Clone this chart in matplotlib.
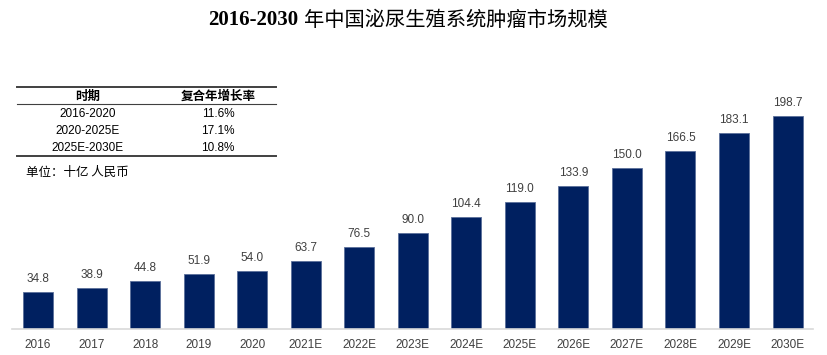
import matplotlib
matplotlib.use("Agg")
import matplotlib.pyplot as plt

years = ["2016", "2017", "2018", "2019", "2020", "2021E", "2022E", "2023E",
         "2024E", "2025E", "2026E", "2027E", "2028E", "2029E", "2030E"]
values = [34.8, 38.9, 44.8, 51.9, 54.0, 63.7, 76.5, 90.0,
          104.4, 119.0, 133.9, 150.0, 166.5, 183.1, 198.7]

periods = ["2016-2020", "2020-2025E", "2025E-2030E"]
cagr = ["11.6%", "17.1%", "10.8%"]

W, H = 827, 355
fig = plt.figure(figsize=(W / 100, H / 100), dpi=100)


def fx(x):
    return x / W


def fy(y):
    return 1 - y / H


# axes placed in pixel terms: baseline at y=329, left 12, right 813
bottom_px, top_px = 329.3, 60
px_per_unit = (329.3 - 116) / 198.7
ymax = (bottom_px - top_px) / px_per_unit
ax = fig.add_axes([fx(12), fy(bottom_px), fx(813) - fx(12), (bottom_px - top_px) / H])

xs = list(range(len(years)))
bars = ax.bar(xs, values, width=0.56, color="#002060", edgecolor="#5a6f9a", linewidth=0.6)
for x, v in zip(xs, values):
    ax.annotate(f"{v:.1f}", (x, v), xytext=(0, 5), textcoords="offset points",
                ha="center", va="bottom", fontsize=8.5, color="#404040",
                family="Liberation Sans")

ax.set_xlim(-0.486, 14.476)
ax.set_ylim(0, ymax)
ax.set_xticks(xs)
ax.set_xticklabels(years, fontsize=8.5, color="#404040", family="Liberation Sans")
ax.tick_params(axis="x", length=0, pad=7)
ax.set_yticks([])
for s in ["top", "left", "right"]:
    ax.spines[s].set_visible(False)
ax.spines["bottom"].set_color("#d9d9d9")
ax.spines["bottom"].set_linewidth(1.2)

# title
fig.text(fx(298), fy(20), "2016-2030", ha="right", va="center", fontsize=15,
         fontweight="bold", family="Liberation Serif", color="black")
fig.text(fx(304), fy(20), "年中国泌尿生殖系统肿瘤市场规模", ha="left", va="center",
         fontsize=14.6, family="Noto Sans CJK SC", color="black")

# CAGR table
x0, x1 = 17, 276
c1, c2 = 88, 218
fig.add_artist(plt.Line2D([fx(x0), fx(x1)], [fy(87), fy(87)], color="#404040", lw=1.4))
fig.add_artist(plt.Line2D([fx(x0), fx(x1)], [fy(104.3), fy(104.3)], color="#404040", lw=0.8))
fig.add_artist(plt.Line2D([fx(x0), fx(x1)], [fy(155.7), fy(155.7)], color="#404040", lw=1.4))
fig.text(fx(c1), fy(96), "时期", ha="center", va="center", fontsize=9,
         fontweight="bold", family="Noto Sans CJK SC")
fig.text(fx(c2), fy(96), "复合年增长率", ha="center", va="center", fontsize=9,
         fontweight="bold", family="Noto Sans CJK SC")
row_y = [114, 131.5, 148]
for y, p, c in zip(row_y, periods, cagr):
    fig.text(fx(c1), fy(y), p, ha="center", va="center", fontsize=8.5, family="Liberation Sans")
    fig.text(fx(c2), fy(y), c, ha="center", va="center", fontsize=8.5, family="Liberation Sans")

fig.text(fx(26), fy(172), "单位：十亿 人民币", ha="left", va="center", fontsize=9,
         family=["Noto Sans CJK SC", "DejaVu Sans"])

fig.savefig("out.png", dpi=100)
